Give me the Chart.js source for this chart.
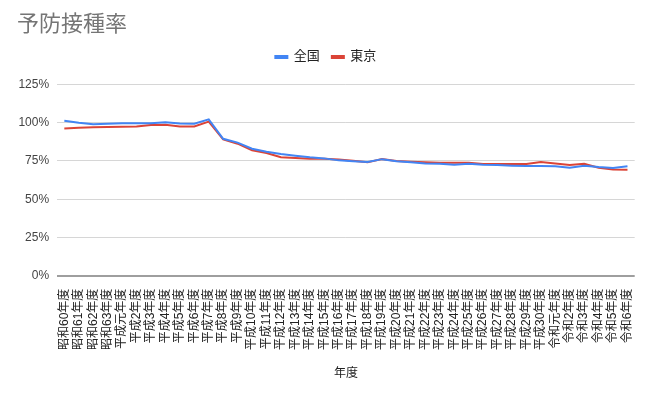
<!DOCTYPE html>
<html lang="ja">
<head>
<meta charset="utf-8">
<title>予防接種率</title>
<script src="https://cdn.jsdelivr.net/npm/chart.js@4.4.1/dist/chart.umd.min.js"></script>
<style>
    html, body { margin: 0; padding: 0; background: #ffffff; }
    #chartWrap { width: 650px; height: 394px; }
</style>
</head>
<body>
<div id="chartWrap"><canvas id="myLineChart" width="650" height="394"></canvas></div>
<script>
var labels = [
    '昭和60年度', '昭和61年度', '昭和62年度', '昭和63年度', '平成元年度',
    '平成2年度', '平成3年度', '平成4年度', '平成5年度', '平成6年度',
    '平成7年度', '平成8年度', '平成9年度', '平成10年度', '平成11年度',
    '平成12年度', '平成13年度', '平成14年度', '平成15年度', '平成16年度',
    '平成17年度', '平成18年度', '平成19年度', '平成20年度', '平成21年度',
    '平成22年度', '平成23年度', '平成24年度', '平成25年度', '平成26年度',
    '平成27年度', '平成28年度', '平成29年度', '平成30年度', '令和元年度',
    '令和2年度', '令和3年度', '令和4年度', '令和5年度', '令和6年度'
];
var zenkoku = [
    101.3, 100.0, 99.0, 99.4, 99.6, 99.6, 99.6, 100.3, 99.5, 99.4,
    102.2, 89.5, 87.0, 83.0, 81.0, 79.5, 78.4, 77.4, 76.7, 75.4,
    74.8, 74.3, 76.2, 74.8, 74.1, 73.4, 73.2, 72.5, 73.2, 72.5,
    72.3, 71.9, 71.7, 71.7, 71.5, 70.6, 71.9, 71.0, 70.4, 71.5
];
var tokyo = [
    96.3, 96.7, 97.0, 97.2, 97.4, 97.6, 98.5, 98.7, 97.6, 97.6,
    100.7, 89.1, 86.3, 82.0, 80.2, 77.4, 76.9, 76.5, 76.5, 76.0,
    75.2, 74.1, 76.3, 75.0, 74.5, 74.1, 73.9, 73.9, 73.9, 73.0,
    73.0, 73.0, 73.0, 74.3, 73.4, 72.3, 73.2, 70.6, 69.5, 69.3
];
var yTickStep = 25;
var yMax = 125;

var baseFont = "'Liberation Sans', 'Noto Sans CJK JP', sans-serif";

// legend height fixed so the plot starts where the original does
var legendHeight = {
    id: 'legendHeight',
    beforeInit: function(chart) {
        var fit = chart.legend.fit;
        chart.legend.fit = function() {
            fit.bind(chart.legend)();
            this.height = 46.1;
        };
    }
};

var ctx = document.getElementById('myLineChart').getContext('2d');
var myLineChart = new Chart(ctx, {
    type: 'line',
    data: {
        labels: labels,
        datasets: [{
            label: '全国',
            data: zenkoku,
            borderColor: '#4285f4',
            backgroundColor: '#4285f4',
            borderWidth: 2,
            pointRadius: 0,
            tension: 0
        }, {
            label: '東京',
            data: tokyo,
            borderColor: '#db4437',
            backgroundColor: '#db4437',
            borderWidth: 2,
            pointRadius: 0,
            tension: 0
        }]
    },
    options: {
        responsive: false,
        animation: false,
        devicePixelRatio: 1,
        layout: { padding: { left: 17, right: 15.3, top: 0, bottom: 0 } },
        plugins: {
            title: {
                display: true,
                text: '予防接種率',
                align: 'start',
                color: '#757575',
                font: { family: baseFont, size: 22, weight: 'normal' },
                padding: { top: 12, bottom: 0 }
            },
            legend: {
                position: 'top',
                labels: {
                    boxWidth: 12,
                    boxHeight: 2,
                    padding: 12,
                    color: '#222222',
                    font: { family: baseFont, size: 13 }
                }
            },
            tooltip: { enabled: false }
        },
        scales: {
            x: {
                offset: true,
                grid: { display: false },
                border: { display: false },
                ticks: {
                    autoSkip: false,
                    minRotation: 90,
                    maxRotation: 90,
                    padding: 5,
                    color: '#222222',
                    font: { family: baseFont, size: 12 }
                },
                title: {
                    display: true,
                    text: '年度',
                    color: '#222222',
                    font: { family: baseFont, size: 12 },
                    padding: { top: 0, bottom: 13 }
                },
                afterFit: function(scale) {
                    scale.height = 118.3;
                }
            },
            y: {
                min: 0,
                max: yMax,
                grid: {
                    drawTicks: false,
                    color: function(c) {
                        return c.tick && c.tick.value === 0 ? '#9e9e9e' : '#d6d6d6';
                    },
                    lineWidth: function(c) {
                        return c.tick && c.tick.value === 0 ? 2 : 1;
                    }
                },
                border: { display: false },
                ticks: {
                    stepSize: yTickStep,
                    padding: 8,
                    color: '#444444',
                    font: { family: baseFont, size: 12 },
                    callback: function(v) { return v + '%'; }
                },
                afterFit: function(scale) {
                    scale.width = 40.1;
                }
            }
        }
    },
    plugins: [legendHeight]
});
</script>
</body>
</html>
